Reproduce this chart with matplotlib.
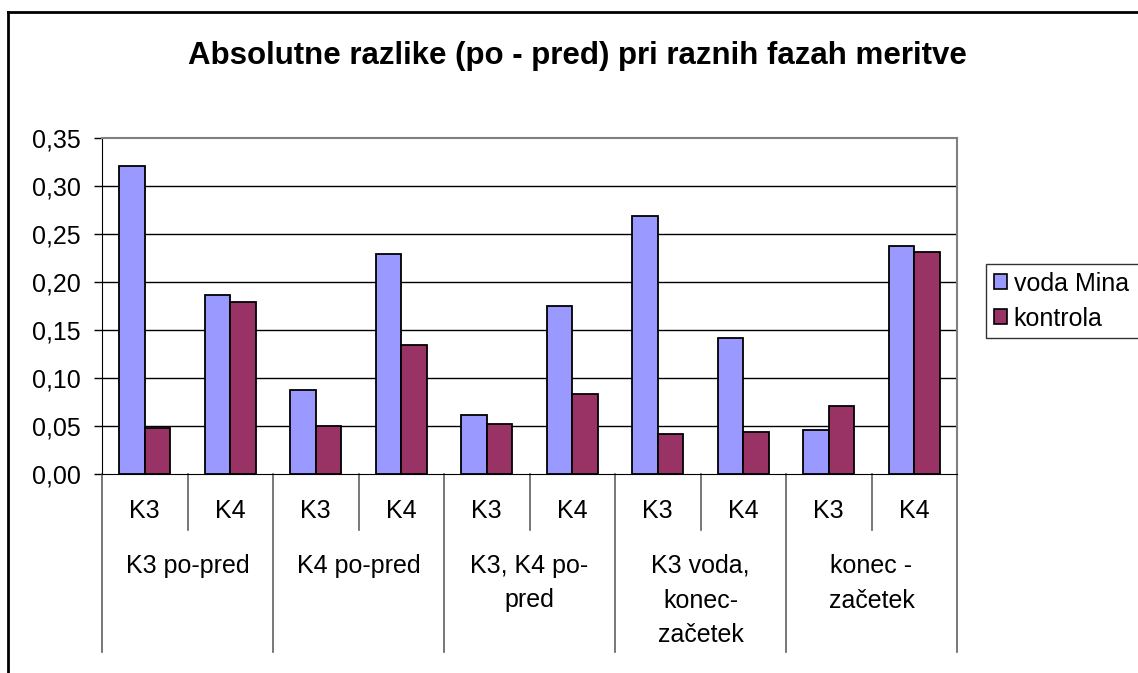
import matplotlib
matplotlib.use("Agg")
import matplotlib.pyplot as plt
from matplotlib.lines import Line2D
from matplotlib.patches import Patch
import numpy as np

plt.rcParams['font.family'] = ['Liberation Sans', 'DejaVu Sans']

# ---- data ----
title = "Absolutne razlike (po - pred) pri raznih fazah meritve"
groups = ["K3 po-pred", "K4 po-pred", "K3, K4 po-\npred", "K3 voda,\nkonec-\nza\u010detek", "konec -\nza\u010detek"]
subcats = ["K3", "K4"]
series_names = ["voda Mina", "kontrola"]
voda_mina = [0.321, 0.186, 0.088, 0.229, 0.061, 0.175, 0.269, 0.142, 0.046, 0.238]
kontrola = [0.048, 0.179, 0.050, 0.134, 0.052, 0.083, 0.042, 0.044, 0.071, 0.231]
yticks = [0.00, 0.05, 0.10, 0.15, 0.20, 0.25, 0.30, 0.35]
ytick_labels = ["0,00", "0,05", "0,10", "0,15", "0,20", "0,25", "0,30", "0,35"]
colors = ["#9999FF", "#993366"]

W, H = 1138, 673
fig = plt.figure(figsize=(W / 100, H / 100), dpi=100)
fig.patch.set_facecolor("white")

# outer chart border
fig.add_artist(Line2D([8 / W, 1.0], [1 - 12 / H, 1 - 12 / H], color="black", lw=2, transform=fig.transFigure))
fig.add_artist(Line2D([8 / W, 8 / W], [1 - 12 / H, 0.0], color="black", lw=2, transform=fig.transFigure))

L, R, T, B = 102, 957, 138, 474
ax = fig.add_axes([L / W, 1 - B / H, (R - L) / W, (B - T) / H])

n = len(voda_mina)
x = np.arange(n) + 0.5
bw = 0.3
ax.bar(x - bw / 2, voda_mina, width=bw, color=colors[0], edgecolor="black", linewidth=1.3, zorder=3)
ax.bar(x + bw / 2, kontrola, width=bw, color=colors[1], edgecolor="black", linewidth=1.3, zorder=3)

ax.set_xlim(0, n)
ax.set_ylim(0, 0.35)
ax.set_yticks(yticks)
ax.set_yticklabels(ytick_labels, fontsize=18)
ax.tick_params(axis="y", direction="out", length=5.8, width=1, pad=9.4)
ax.set_xticks([])
for yv in yticks[1:-1]:
    ax.axhline(yv, color="black", lw=1, zorder=1)
ax.spines["top"].set_color("#808080")
ax.spines["right"].set_color("#808080")
ax.spines["top"].set_linewidth(1.5)
ax.spines["right"].set_linewidth(1.5)
ax.spines["left"].set_color("black")
ax.spines["bottom"].set_color("black")

# multi-level category axis
trans = ax.get_xaxis_transform()
def ay(px):
    return (B - px) / (B - T)

y_short = ay(530)
y_long = ay(652)
for b in range(n + 1):
    yb = y_long if b % 2 == 0 else y_short
    ax.add_line(Line2D([b, b], [0, yb], color="#606060", lw=1.2, transform=trans, clip_on=False))
for i in range(n):
    ax.text(x[i], ay(511), subcats[i % 2], ha="center", va="center",
            fontsize=18, transform=trans)
for g, name in enumerate(groups):
    for k, line in enumerate(name.split("\n")):
        ax.text(2 * g + 1, ay(566 + 34.5 * k), line, ha="center", va="center",
                fontsize=18, transform=trans)

fig.text(577 / W, 1 - 56 / H, title, ha="center", va="center", fontsize=22.5, fontweight="bold")

handles = [Patch(facecolor=colors[0], edgecolor="black", lw=1.2),
           Patch(facecolor=colors[1], edgecolor="black", lw=1.2)]
leg = fig.legend(handles, series_names, loc="upper left",
                 bbox_to_anchor=(986 / W, 1 - 348 / H, 190 / W, 84 / H), mode="expand",
                 bbox_transform=fig.transFigure, fontsize=18, frameon=True, fancybox=False,
                 handlelength=0.55, handleheight=0.55, handletextpad=0.25, borderpad=0.3,
                 labelspacing=0.45, borderaxespad=0)
leg.get_frame().set_edgecolor("black")
leg.get_frame().set_linewidth(1)

fig.savefig("out.png", dpi=100, facecolor="white")
